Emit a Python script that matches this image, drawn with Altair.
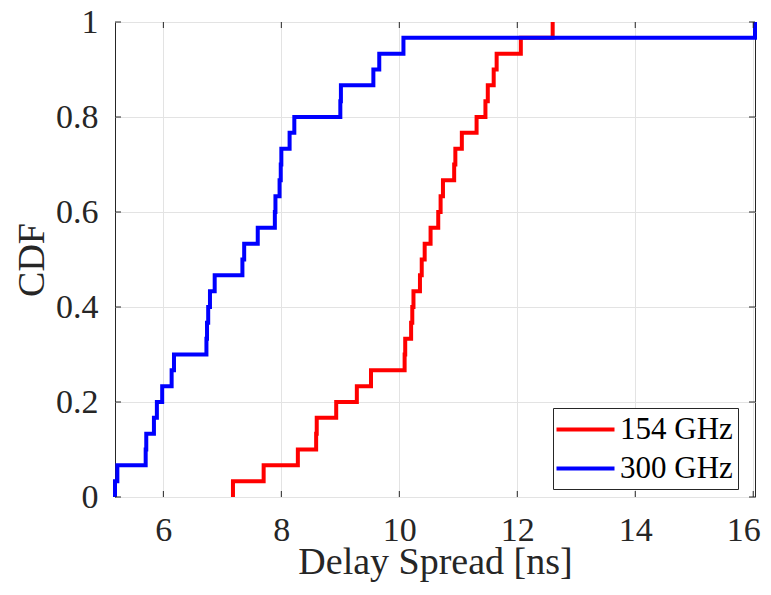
import altair as alt
import pandas as pd

# Delay spread samples [ns] (30 per band)
ds_154 = [7.18, 7.70, 8.28, 8.59, 8.60, 8.93, 9.28, 9.52, 10.09, 10.10,
          10.20, 10.22, 10.24, 10.35, 10.38, 10.43, 10.53, 10.66, 10.70, 10.74,
          10.93, 10.95, 11.06, 11.31, 11.46, 11.50, 11.60, 11.65, 12.06, 12.60]
ds_300 = [5.18, 5.22, 5.70, 5.71, 5.84, 5.89, 5.98, 6.14, 6.18, 6.73,
          6.74, 6.76, 6.79, 6.87, 7.34, 7.37, 7.60, 7.89, 7.90, 7.97,
          7.99, 8.00, 8.14, 8.22, 9.00, 9.01, 9.56, 9.66, 10.07, 16.03]
series_names = ["154 GHz", "300 GHz"]
series_colors = ["#ff0000", "#0000ff"]
x_ticks = [6, 8, 10, 12, 14, 16]
y_ticks = [0, 0.2, 0.4, 0.6, 0.8, 1]
x_domain = [5.18, 16.03]
y_domain = [0, 1]


def ecdf_rows(name, vals):
    v = sorted(vals)
    n = len(v)
    rows = [{"series": name, "x": v[0], "cdf": 0.0, "k": 0}]
    for i, xv in enumerate(v):
        rows.append({"series": name, "x": xv, "cdf": (i + 1) / n, "k": i + 1})
    return rows


df = pd.DataFrame(ecdf_rows(series_names[0], ds_154) + ecdf_rows(series_names[1], ds_300))
xt = pd.DataFrame({"t": x_ticks})
yt = pd.DataFrame({"t": y_ticks})

FONT = "Liberation Serif"
W, H = 640, 475

xscale = alt.Scale(domain=x_domain, nice=False, zero=False)
yscale = alt.Scale(domain=y_domain, nice=False, zero=False)
x_axis = alt.Axis(values=x_ticks, format="d", title="Delay Spread [ns]",
                  labelPadding=16, titlePadding=-4, labelFlush=5, labelFlushOffset=7)
y_axis = alt.Axis(values=y_ticks, format=".1~f", title="CDF",
                  labelPadding=17, titlePadding=4)

lines = alt.Chart(df).mark_line(interpolate="step-after", strokeWidth=4, strokeCap="butt").encode(
    x=alt.X("x:Q", scale=xscale, axis=x_axis),
    y=alt.Y("cdf:Q", scale=yscale, axis=y_axis),
    color=alt.Color("series:N",
                    scale=alt.Scale(domain=series_names, range=series_colors),
                    legend=alt.Legend(title=None, orient="none", legendX=438, legendY=386,
                                      symbolType="M-2,0H2", symbolSize=841, symbolStrokeWidth=4,
                                      symbolOffset=11,
                                      labelFont=FONT, labelFontSize=31, labelColor="#000000",
                                      labelOffset=18, padding=5, rowPadding=7,
                                      strokeColor="#262626", fillColor="#ffffff")),
    detail="series:N",
    order="k:Q",
)

tick_color = "#262626"
xt_bottom = alt.Chart(xt).mark_rule(color=tick_color, strokeWidth=1).encode(
    x=alt.X("t:Q", scale=xscale, axis=x_axis), y=alt.value(H), y2=alt.value(H - 6))
xt_top = alt.Chart(xt).mark_rule(color=tick_color, strokeWidth=1).encode(
    x=alt.X("t:Q", scale=xscale, axis=x_axis), y=alt.value(0), y2=alt.value(6))
yt_left = alt.Chart(yt).mark_rule(color=tick_color, strokeWidth=1).encode(
    y=alt.Y("t:Q", scale=yscale, axis=y_axis), x=alt.value(0), x2=alt.value(6))
yt_right = alt.Chart(yt).mark_rule(color=tick_color, strokeWidth=1).encode(
    y=alt.Y("t:Q", scale=yscale, axis=y_axis), x=alt.value(W), x2=alt.value(W - 6))

chart = alt.layer(lines, xt_bottom, xt_top, yt_left, yt_right).properties(
    width=W, height=H,
    padding={"left": 107, "top": 14, "right": 8, "bottom": 90},
    autosize=alt.AutoSizeParams(type="none"),
).configure_view(
    stroke="#262626", strokeWidth=1
).configure_axis(
    domain=False, ticks=False, grid=True, gridColor="#e3e3e3", gridWidth=1,
    labelFont=FONT, labelFontSize=34, labelColor="#262626",
    titleFont=FONT, titleFontSize=38, titleFontWeight="normal", titleColor="#262626",
)

chart.save("out.html", embed_options={"renderer": "svg", "actions": False})
